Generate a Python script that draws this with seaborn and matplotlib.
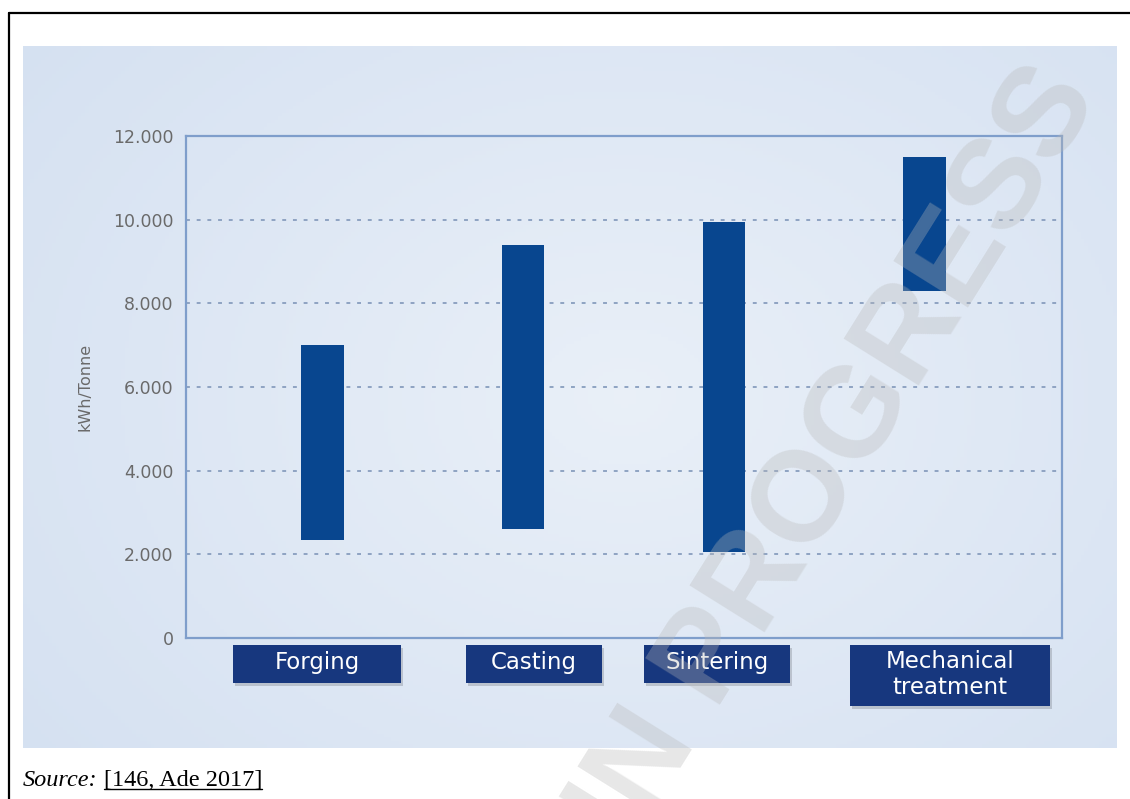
import numpy as np
import pandas as pd
import matplotlib
matplotlib.use("Agg")
import matplotlib.pyplot as plt
from matplotlib.lines import Line2D
from matplotlib.patches import Rectangle
import seaborn as sns

# floating bars: energy use range per process (kWh/Tonne)
categories = ["Forging", "Casting", "Sintering", "Mechanical\ntreatment"]
low_vals = [2350, 2600, 2050, 8300]
high_vals = [7000, 9400, 9950, 11500]
y_ticks = [0, 2000, 4000, 6000, 8000, 10000, 12000]
y_tick_labels = ["0", "2.000", "4.000", "6.000", "8.000", "10.000", "12.000"]
y_label = "kWh/Tonne"
source_prefix = "Source:"
source_ref = "[146, Ade 2017]"
watermark = "WORKING DRAFT IN PROGRESS"

sns.set_theme(style="white")
plt.rcParams["font.family"] = ["DejaVu Sans"]

bar_color = "#08468f"
box_color = "#17377e"
spine_color = "#7f9ecb"
grid_color = "#8ea3c2"
tick_color = "#6a6a6a"

df = pd.DataFrame({"process": categories, "low": low_vals, "high": high_vals})
df["span"] = df["high"] - df["low"]

W, H = 1130, 799
fig = plt.figure(figsize=(W / 100, H / 100), dpi=100)
fig.patch.set_facecolor("white")

# light blue panel with a soft gradient
bg = fig.add_axes([23 / W, 1 - 748 / H, (1117 - 23) / W, (748 - 46) / H])
yy, xx = np.mgrid[0:1:200j, 0:1:300j]
d = np.sqrt(((xx - 0.55) / 0.75) ** 2 + ((yy - 0.5) / 0.9) ** 2)
d = np.clip(d, 0, 1)
c0 = np.array([0.915, 0.940, 0.972])
c1 = np.array([0.830, 0.878, 0.945])
img = c0 + (c1 - c0) * d[..., None]
bg.imshow(img, aspect="auto", extent=(0, 1, 0, 1))
bg.axis("off")

# main chart
ax = fig.add_axes([186 / W, 1 - 638 / H, (1062 - 186) / W, (638 - 136) / H])
ax.set_facecolor("none")
sns.barplot(data=df, x="process", y="span", bottom=df["low"].values,
            color=bar_color, saturation=1, width=0.21, errorbar=None,
            linewidth=0, ax=ax, zorder=3)
ax.set_xlim(-0.68, 3.685)
ax.set_ylim(0, 12000)
ax.set_yticks(y_ticks)
ax.set_yticklabels(y_tick_labels, fontsize=12.5, color=tick_color)
ax.tick_params(axis="y", length=0, pad=9)
ax.set_xticks([])
ax.set_xlabel("")
ax.set_ylabel(y_label, fontsize=11.5, color=tick_color)
ax.yaxis.set_label_coords(-0.107, 0.5)
ax.yaxis.grid(True, color=grid_color, lw=1.4, ls=(0, (2, 3.5)))
ax.set_axisbelow(True)
for s in ax.spines.values():
    s.set_visible(True)
    s.set_color(spine_color)
    s.set_linewidth(1.6)

# category label boxes under the axis (pixel layout)
box_px = [(233, 401, 645, 683), (466, 602, 645, 683),
          (644, 790, 645, 683), (850, 1050, 645, 706)]
for name, (x0, x1, y0, y1) in zip(categories, box_px):
    fx, fy = x0 / W, 1 - y1 / H
    fw, fh = (x1 - x0) / W, (y1 - y0) / H
    fig.patches.append(Rectangle((fx + 2 / W, fy - 3 / H), fw, fh, transform=fig.transFigure,
                                 facecolor="#7a7f88", alpha=0.35, lw=0))
    fig.patches.append(Rectangle((fx, fy), fw, fh, transform=fig.transFigure,
                                 facecolor=box_color, lw=0))
    fig.text(fx + fw / 2, fy + fh / 2 + 1 / H, name, color="white", fontsize=16.5,
             ha="center", va="center", linespacing=1.2)

# outer frame (left and top edges)
fig.add_artist(Line2D([9 / W, 9 / W], [0, 1 - 13 / H], color="black", lw=1.6))
fig.add_artist(Line2D([9 / W, 1], [1 - 13 / H, 1 - 13 / H], color="black", lw=1.6))

# source line
t1 = fig.text(23 / W, 1 - 786 / H, source_prefix, family="Liberation Serif",
              style="italic", fontsize=17.5, color="black", va="baseline")
fig.canvas.draw()
r = fig.canvas.get_renderer()
bb = t1.get_window_extent(r)
t2 = fig.text((bb.x1 + 6) / W, 1 - 786 / H, source_ref, family="Liberation Serif",
              fontsize=17.5, color="black", va="baseline")
bb2 = t2.get_window_extent(r)
fig.add_artist(Line2D([bb2.x0 / W, bb2.x1 / W], [1 - 789 / H, 1 - 789 / H],
                      color="black", lw=1.0))

# watermark
fig.text(1100 / W, 1 - 98 / H, watermark, ha="right", va="baseline", rotation=58,
         rotation_mode="anchor", fontsize=92, weight="bold", family="Liberation Sans",
         color="#b8b8b8", alpha=0.33, zorder=10)

fig.savefig("out.png", dpi=100)
